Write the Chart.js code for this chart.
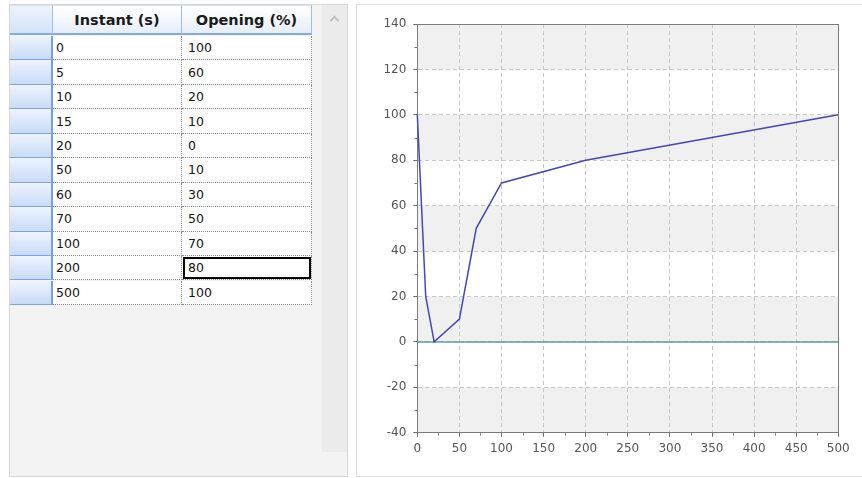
<!DOCTYPE html>
<html>
<head>
<meta charset="utf-8">
<script src="https://cdn.jsdelivr.net/npm/chart.js@4.4.1/dist/chart.umd.min.js"></script>
<style>
  body { margin: 0; width: 862px; height: 478px; background: #fff; position: relative; overflow: hidden; font-family: "DejaVu Sans", sans-serif; }
  .abs { position: absolute; box-sizing: border-box; }
  #gridPanel { left: 9px; top: 4px; width: 339px; height: 473px; background: #f3f3f3; border: 1px solid #d6d6d6; }
  #scrollTrack { left: 322px; top: 5px; width: 25px; height: 447px; background: #ebebeb; }
  #scrollArrow { left: 331px; top: 17px; width: 7px; height: 7px; border-top: 2px solid #c4c4c4; border-left: 2px solid #c4c4c4; transform: rotate(45deg); }
  .hdr { height: 30px; top: 5px; background: linear-gradient(#ffffff, #e6eefa); border-top: 1px solid #d8e2f0; border-right: 1px solid #9fbce6; border-bottom: 2px solid #86aae0;
         font-weight: bold; font-size: 14.5px; color: #1a1a1a; display: flex; align-items: center; justify-content: center; }
  .corner { background: linear-gradient(#edf3fc, #d3e3f9); }
  .rowhdr { left: 10px; width: 43px; background: linear-gradient(#eef4fd, #c8dbf7); border-right: 2px solid #76a0e0; border-bottom: 1px solid #7fa5de; }
  .cell { background: #fff; border-right: 1px dotted #8a8a8a; border-bottom: 1px dotted #8a8a8a; font-size: 12.5px; color: #141414;
          display: flex; align-items: center; padding-left: 3px; }
  .sel { outline: 2px solid #000; outline-offset: -3px; }
  #chartPanel { left: 356px; top: 4px; width: 510px; height: 473px; background: #fff; border: 1px solid #dedede; }
  #chartCanvas { position: absolute; left: 357px; top: 6px; }
</style>
</head>
<body>
<div id="gridPanel" class="abs"></div>
<div id="scrollTrack" class="abs"></div>
<div id="scrollArrow" class="abs"></div>
<div id="chartPanel" class="abs"></div>
<canvas id="chartCanvas" width="505" height="470"></canvas>
<script>
// data
const columnHeaders = ['Instant (s)', 'Opening (%)'];
const instants = [0, 5, 10, 15, 20, 50, 60, 70, 100, 200, 500];
const openings = [100, 60, 20, 10, 0, 10, 30, 50, 70, 80, 100];
const zeroLineX = [0, 500];
const zeroLineY = [0, 0];
const xTickValues = [0, 50, 100, 150, 200, 250, 300, 350, 400, 450, 500];
const yTickValues = [-40, -20, 0, 20, 40, 60, 80, 100, 120, 140];
const selectedRow = 9, selectedCol = 1;

// --- grid (table) ---
const colLeft = [53, 182], colWidth = [129, 130];
const rowTop = 36, rowH = 24.45;

function addDiv(cls, left, top, width, height, text) {
  const d = document.createElement('div');
  d.className = 'abs ' + cls;
  d.style.left = left + 'px';
  if (top !== null) d.style.top = top + 'px';
  d.style.width = width + 'px';
  if (height !== null) d.style.height = height + 'px';
  if (text !== undefined) d.textContent = text;
  document.body.appendChild(d);
  return d;
}

addDiv('hdr corner', 10, null, 43, null);
columnHeaders.forEach((h, c) => addDiv('hdr', colLeft[c], null, colWidth[c], null, h));

instants.forEach((v, i) => {
  const top = rowTop + i * rowH;
  addDiv('rowhdr', 10, top, 43, rowH);
  [v, openings[i]].forEach((val, c) => {
    const d = addDiv('cell', colLeft[c], top, colWidth[c], rowH, String(val));
    if (c === 1) d.style.paddingLeft = '6px';
    if (i === selectedRow && c === selectedCol) d.classList.add('sel');
  });
});

// --- chart ---
const bandsPlugin = {
  id: 'bands',
  beforeDraw(chart) {
    const { ctx, chartArea: a, scales: { y } } = chart;
    ctx.save();
    ctx.fillStyle = '#f0f0f0';
    ctx.fillRect(a.left, a.top, a.right - a.left, a.bottom - a.top);
    ctx.fillStyle = '#ffffff';
    const vals = yTickValues.slice().reverse();
    for (let i = 1; i < vals.length - 1; i += 2) {
      const y1 = y.getPixelForValue(vals[i]);
      const y2 = y.getPixelForValue(vals[i + 1]);
      ctx.fillRect(a.left, y1, a.right - a.left, y2 - y1);
    }
    ctx.restore();
  },
  afterDraw(chart) {
    const { ctx, chartArea: a, scales: { x, y } } = chart;
    ctx.save();
    ctx.strokeStyle = '#7c7c7c';
    ctx.lineWidth = 1;
    ctx.beginPath();
    ctx.moveTo(a.left, Math.round(a.top) + 0.5);
    ctx.lineTo(a.right, Math.round(a.top) + 0.5);
    ctx.moveTo(Math.round(a.right) + 0.5, a.top);
    ctx.lineTo(Math.round(a.right) + 0.5, a.bottom);
    // minor ticks between majors
    for (let i = 0; i < yTickValues.length - 1; i++) {
      const py = Math.round(y.getPixelForValue((yTickValues[i] + yTickValues[i + 1]) / 2)) + 0.5;
      ctx.moveTo(a.left - 3, py);
      ctx.lineTo(a.left, py);
    }
    for (let i = 0; i < xTickValues.length - 1; i++) {
      const px = Math.round(x.getPixelForValue((xTickValues[i] + xTickValues[i + 1]) / 2)) + 0.5;
      ctx.moveTo(px, a.bottom);
      ctx.lineTo(px, a.bottom + 3);
    }
    ctx.stroke();
    ctx.restore();
  }
};

const tickFont = { family: '"DejaVu Sans", sans-serif', size: 12 };

new Chart(document.getElementById('chartCanvas'), {
  type: 'scatter',
  data: {
    datasets: [
      {
        data: instants.map((v, i) => ({ x: v, y: openings[i] })),
        showLine: true, borderColor: '#4747b3', borderWidth: 1.5,
        pointRadius: 0, tension: 0, clip: 4
      },
      {
        data: zeroLineX.map((v, i) => ({ x: v, y: zeroLineY[i] })),
        showLine: true, borderColor: '#5f9c9c', borderWidth: 1.5,
        pointRadius: 0, clip: 4
      }
    ]
  },
  options: {
    responsive: false,
    animation: false,
    layout: { padding: { left: 0, top: 18, right: 23.7, bottom: 0 } },
    plugins: { legend: { display: false }, tooltip: { enabled: false } },
    scales: {
      x: {
        type: 'linear', min: 0, max: 500,
        afterBuildTicks: s => { s.ticks = xTickValues.map(v => ({ value: v })); },
        afterFit: s => { s.height = 43.3; },
        grid: { color: '#c8c8c8', tickColor: '#6a6a6a', tickLength: 4 },
        border: { color: '#7c7c7c', width: 1, dash: [4, 3] },
        ticks: { color: '#555', font: tickFont, padding: 5, maxRotation: 0 }
      },
      y: {
        type: 'linear', min: -40, max: 140,
        afterBuildTicks: s => { s.ticks = yTickValues.map(v => ({ value: v })); },
        afterFit: s => { s.width = 60.3; },
        grid: { color: '#c8c8c8', tickColor: '#6a6a6a', tickLength: 4 },
        border: { color: '#7c7c7c', width: 1, dash: [4, 3] },
        ticks: { color: '#555', font: tickFont, padding: 7 }
      }
    }
  },
  plugins: [bandsPlugin]
});
</script>
</body>
</html>
